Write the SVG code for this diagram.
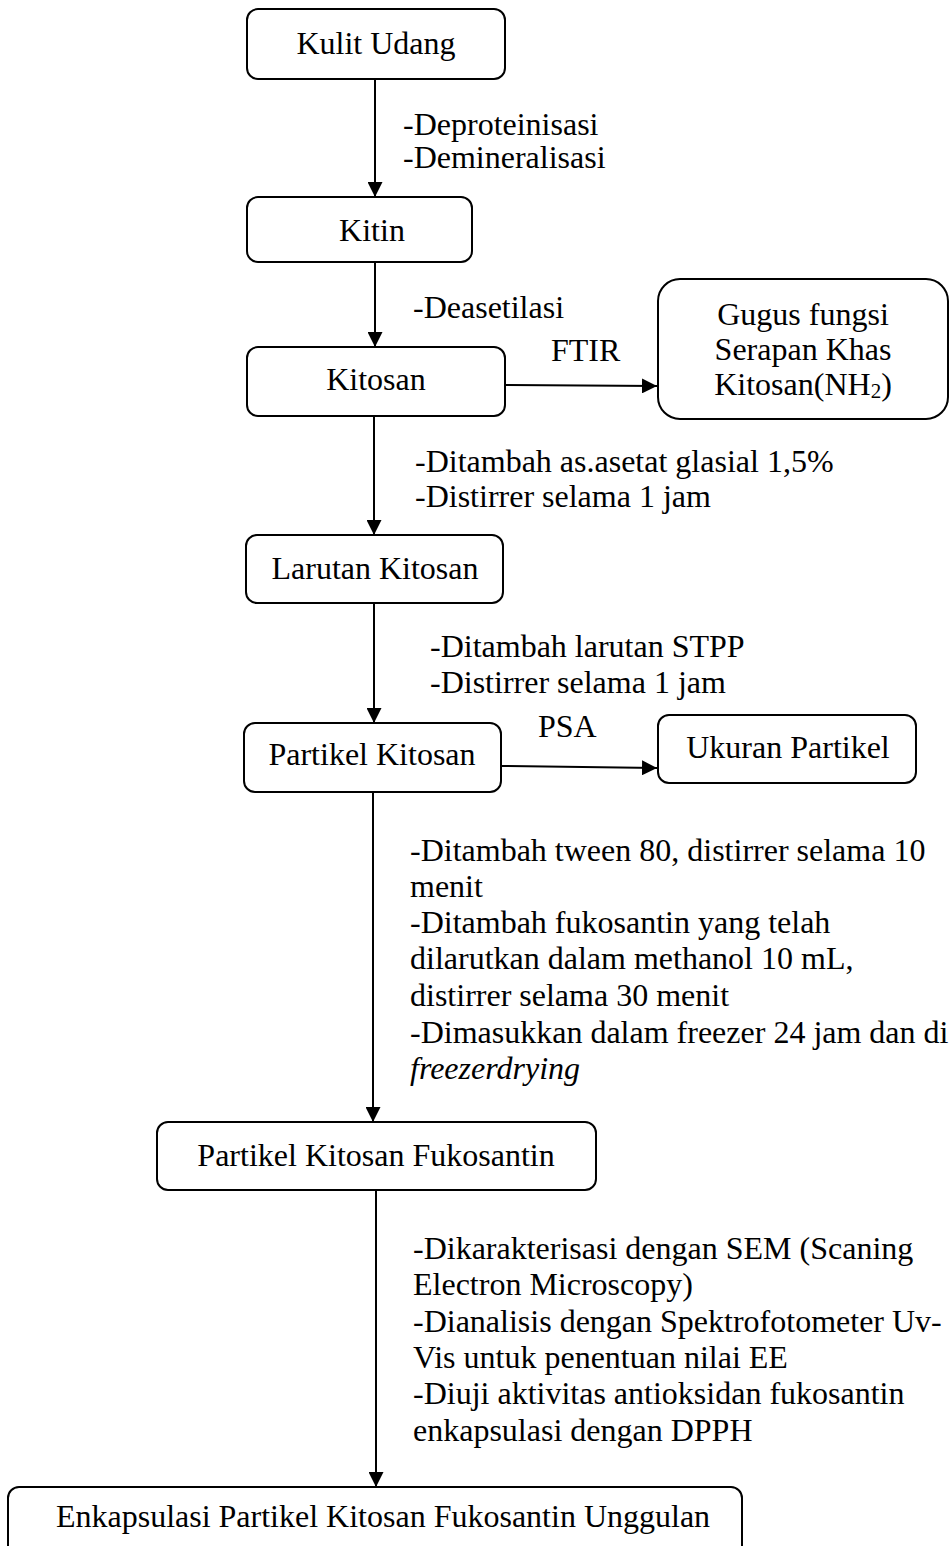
<svg xmlns="http://www.w3.org/2000/svg" width="952" height="1546" viewBox="0 0 952 1546">
<style>
text{font-family:"Liberation Serif","Times New Roman",serif;font-size:32px;fill:#000}
.c{text-anchor:middle}
.box{fill:#fff;stroke:#000;stroke-width:2}
.conn line{stroke:#000;stroke-width:2;marker-end:url(#ah)}
</style>
<defs>
<marker id="ah" viewBox="0 0 10 10" refX="10" refY="5" markerWidth="15" markerHeight="15" markerUnits="userSpaceOnUse" orient="auto">
<path d="M0,0 L10,5 L0,10 z" fill="#000"/>
</marker>
</defs>
<rect width="952" height="1546" fill="#fff"/>
<g class="conn" id="connectors">
<line x1="375" y1="79" x2="375" y2="197"/>
<line x1="375" y1="262" x2="375" y2="347"/>
<line x1="505" y1="385" x2="657" y2="386"/>
<line x1="374" y1="416" x2="374" y2="535"/>
<line x1="374" y1="603" x2="374" y2="723"/>
<line x1="501" y1="766" x2="657" y2="768"/>
<line x1="373" y1="792" x2="373" y2="1122"/>
<line x1="376" y1="1190" x2="376" y2="1487"/>
</g>
<g id="n1"><rect class="box" x="247" y="9" width="258" height="70" rx="11"/><text class="c" x="376" y="54">Kulit Udang</text></g>
<g id="n2"><rect class="box" x="247" y="197" width="225" height="65" rx="11"/><text class="c" x="372" y="241">Kitin</text></g>
<g id="n3"><rect class="box" x="247" y="347" width="258" height="69" rx="11"/><text class="c" x="376" y="390">Kitosan</text></g>
<g id="n4"><rect class="box" x="658" y="279" width="290" height="140" rx="22"/><text class="c" x="803" y="325">Gugus fungsi</text><text class="c" x="803" y="360">Serapan Khas</text><text class="c" x="803" y="395">Kitosan(NH<tspan font-size="21" dy="3">2</tspan><tspan dy="-3">)</tspan></text></g>
<g id="n5"><rect class="box" x="246" y="535" width="257" height="68" rx="11"/><text class="c" x="375" y="579">Larutan Kitosan</text></g>
<g id="n6"><rect class="box" x="244" y="723" width="257" height="69" rx="11"/><text class="c" x="372" y="765">Partikel Kitosan</text></g>
<g id="n7"><rect class="box" x="658" y="715" width="258" height="68" rx="11"/><text class="c" x="788" y="758">Ukuran Partikel</text></g>
<g id="n8"><rect class="box" x="157" y="1122" width="439" height="68" rx="11"/><text class="c" x="376" y="1166">Partikel Kitosan Fukosantin</text></g>
<g id="n9"><rect class="box" x="8" y="1487" width="734" height="80" rx="11"/><text class="c" x="383" y="1527">Enkapsulasi Partikel Kitosan Fukosantin Unggulan</text></g>
<g id="labels">
<text x="403" y="135">-Deproteinisasi</text>
<text x="403" y="168">-Demineralisasi</text>
<text x="413" y="318">-Deasetilasi</text>
<text x="551" y="361">FTIR</text>
<text x="415" y="472">-Ditambah as.asetat glasial 1,5%</text>
<text x="415" y="507">-Distirrer selama 1 jam</text>
<text x="430" y="657">-Ditambah larutan STPP</text>
<text x="430" y="693">-Distirrer selama 1 jam</text>
<text x="538" y="737">PSA</text>
<text x="410" y="861">-Ditambah tween 80, distirrer selama 10</text>
<text x="410" y="897">menit</text>
<text x="410" y="933">-Ditambah fukosantin yang telah</text>
<text x="410" y="969">dilarutkan dalam methanol 10 mL,</text>
<text x="410" y="1006">distirrer selama 30 menit</text>
<text x="410" y="1043">-Dimasukkan dalam freezer 24 jam dan di</text>
<text x="410" y="1079" font-style="italic">freezerdrying</text>
<text x="413" y="1259">-Dikarakterisasi dengan SEM (Scaning</text>
<text x="413" y="1295">Electron Microscopy)</text>
<text x="413" y="1332">-Dianalisis dengan Spektrofotometer Uv-</text>
<text x="413" y="1368">Vis untuk penentuan nilai EE</text>
<text x="413" y="1404">-Diuji aktivitas antioksidan fukosantin</text>
<text x="413" y="1441">enkapsulasi dengan DPPH</text>
</g>
</svg>
